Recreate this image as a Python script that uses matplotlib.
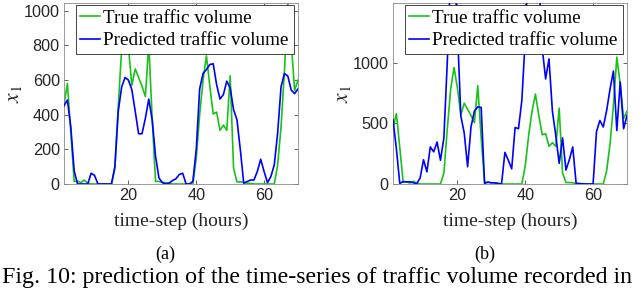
import matplotlib
matplotlib.use("Agg")
import matplotlib.pyplot as plt
import numpy as np

# ---------------- data ----------------
time_steps = list(range(1, 71))

true_volume = [460, 580, 300, 15, 17, 8, 23, 5, 0, 0,
               0, 0, 0, 0, 0, 90, 450, 780, 960, 790,
               570, 665, 615, 565, 505, 810, 380, 15, 15, 10,
               8, 5, 0, 0, 0, 0, 0, 0, 0, 150,
               400, 600, 740, 565, 405, 415, 310, 340, 310, 625,
               90, 12, 12, 10, 5, 3, 0, 0, 0, 0,
               0, 0, 0, 110, 330, 650, 1045, 820, 540, 600]

pred_a = [452, 485, 330, 75, 0, 0, 0, 0, 62, 50,
          0, 0, 0, 0, 0, 100, 420, 560, 615, 600,
          545, 420, 290, 290, 380, 490, 370, 160, 35, 8,
          0, 5, 20, 30, 55, 62, 0, 0, 15, 200,
          549, 638, 661, 690, 694, 574, 491, 516, 594, 555,
          429, 371, 197, 4, 14, 23, 23, 72, 143, 72,
          8, 43, 110, 294, 561, 638, 623, 542, 522, 549]

pred_b = [530, 290, 5, 20, 18, 18, 10, 3, 50, 200,
          100, 305, 265, 345, 195, 380, 1000, 1750, 1830, 1270,
          560, 420, 142, 470, 600, 635, 630, 5, 15, 10,
          10, 5, 0, 260, 196, 125, 465, 455, 690, 1200,
          1900, 1950, 1800, 1700, 1120, 865, 1030, 600, 400, 170,
          380, 115, 200, 305, 5, 3, 2, 0, 0, 0,
          430, 523, 469, 605, 782, 930, 440, 840, 455, 565]

xticks = [20, 40, 60]
yticks_a = [0, 200, 400, 600, 800, 1000]
yticks_b = [0, 500, 1000]
legend_labels = ["True traffic volume", "Predicted traffic volume"]
xlabel_text = "time-step (hours)"
ylabel_text = r"$x_1$"
sub_labels = ["(a)", "(b)"]
caption = "Fig. 10: prediction of the time-series of traffic volume recorded in"

# ---------------- style ----------------
W, H = 640, 288
fig = plt.figure(figsize=(W / 100, H / 100), dpi=100)
plt.rcParams['mathtext.fontset'] = 'stix'

green = '#19c219'
blue = '#0000ff'
axcol = '#262626'
serif = ['Liberation Serif', 'DejaVu Serif']
sans = ['Liberation Sans', 'DejaVu Sans']


def px_rect(x0, y0, x1, y1):
    return [x0 / W, 1 - y1 / H, (x1 - x0) / W, (y1 - y0) / H]


def make_panel(rect, pred, ylim_top, yticks):
    ax = fig.add_axes(rect)
    ax.plot(time_steps, true_volume, color=green, lw=1.2, zorder=2)
    ax.plot(time_steps, pred, color=blue, lw=1.2, zorder=3)
    ax.set_xlim(1, 70)
    ax.set_ylim(0, ylim_top)
    ax.set_xticks(xticks)
    ax.set_yticks(yticks)
    ax.tick_params(direction='in', length=3, width=0.5, colors=axcol,
                   top=True, right=True, labelsize=11.7, pad=3)
    for lab in ax.get_xticklabels() + ax.get_yticklabels():
        lab.set_family(sans)
        lab.set_color(axcol)
    for s in ax.spines.values():
        s.set_color('#8a8a8a')
        s.set_linewidth(0.6)
    ax.set_xlabel(xlabel_text, family=serif, fontsize=14, color=axcol)
    ax.xaxis.set_label_coords(0.5, (184 - 221) / 181, transform=ax.transAxes)
    ax.xaxis.label.set_va('center')
    ax.set_ylabel(ylabel_text, fontsize=15.5, color=axcol)
    ax.yaxis.set_label_coords(-0.214, 0.50)
    ax.yaxis.label.set_va('center')
    leg = ax.legend(legend_labels, loc='upper right', bbox_to_anchor=(0.981, 0.99),
                    prop={'family': serif, 'size': 13.8}, frameon=True, fancybox=False,
                    framealpha=1, edgecolor=axcol, borderaxespad=0, borderpad=0.25,
                    handlelength=1.0, handletextpad=0.2, labelspacing=0.25)
    leg.get_frame().set_linewidth(0.6)
    return ax


ax1 = make_panel(px_rect(64, 3, 298, 184), pred_a, 1045, yticks_a)
ax2 = make_panel(px_rect(393, 3, 627, 184), pred_b, 1490, yticks_b)

fig.text(165 / W, 1 - 254 / H, sub_labels[0], family=serif, fontsize=13,
         ha='center', va='center', color='black')
fig.text(485 / W, 1 - 254 / H, sub_labels[1], family=serif, fontsize=13,
         ha='center', va='center', color='black')
fig.text(2 / W, 1 - 283 / H, caption, family=serif, fontsize=17.2,
         ha='left', va='baseline', color='black')

fig.savefig('out.png', dpi=100)
